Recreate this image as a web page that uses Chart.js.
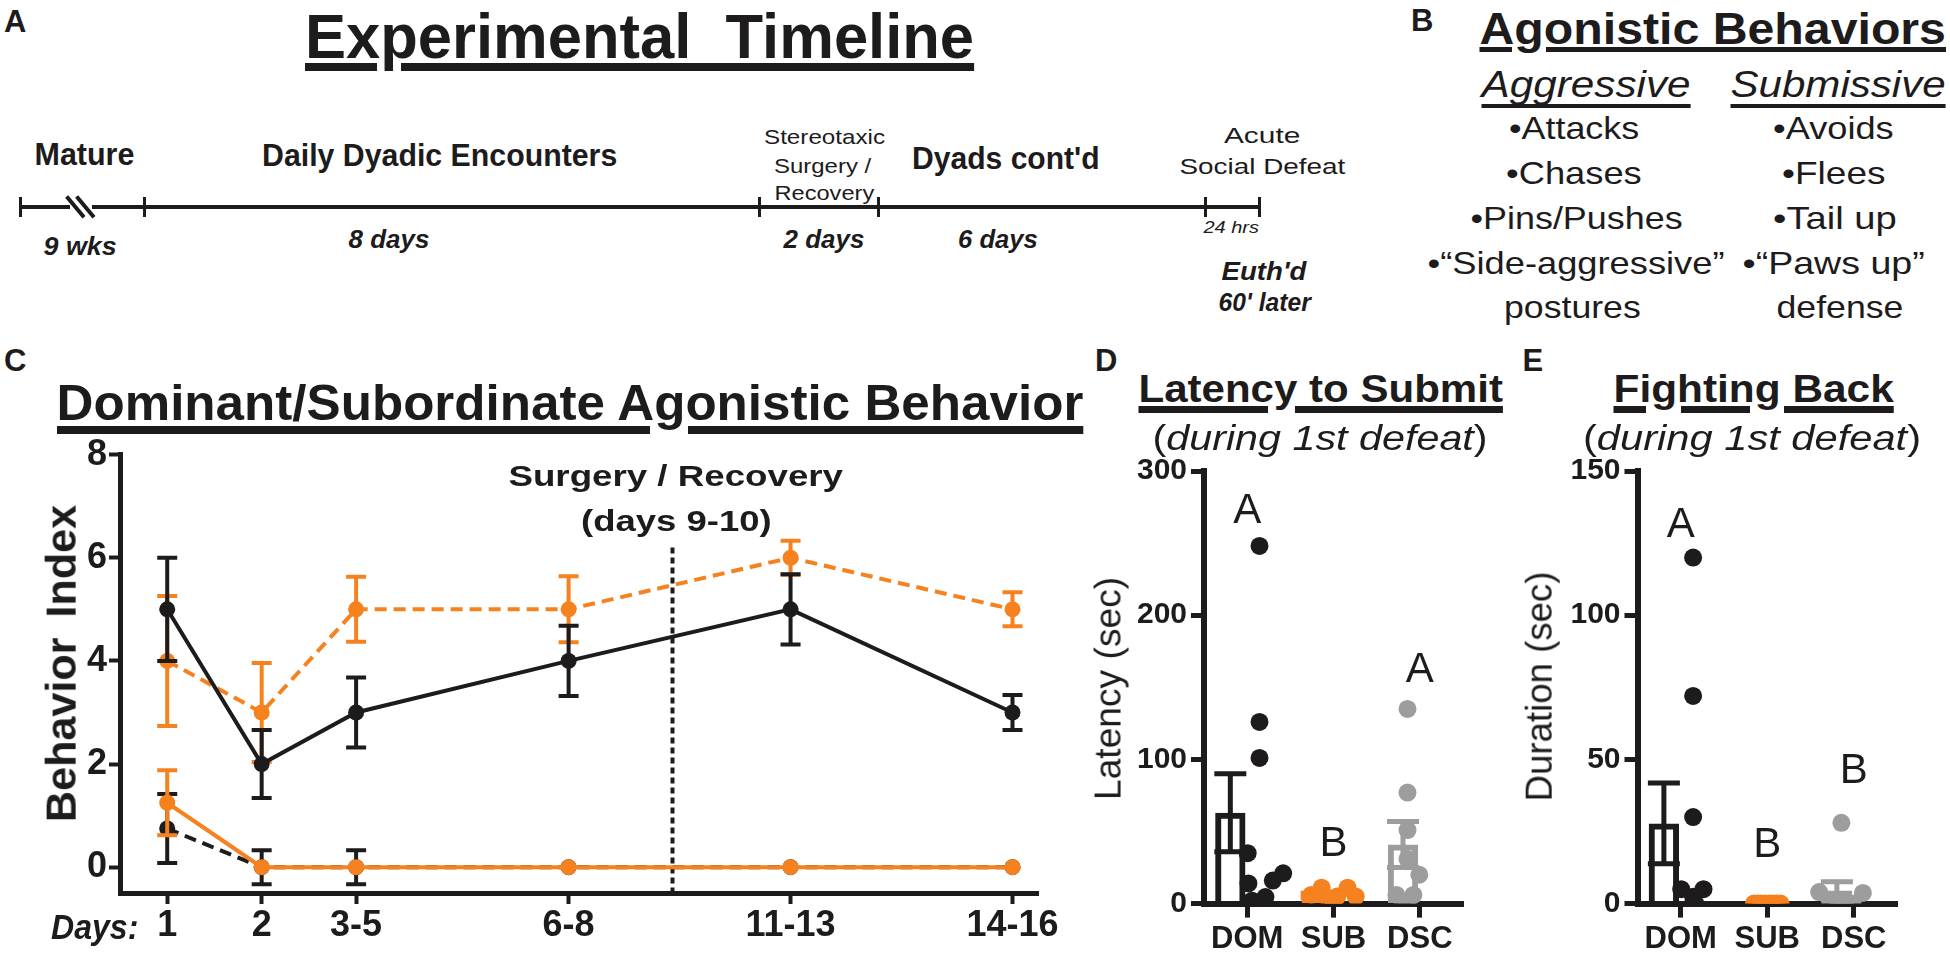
<!DOCTYPE html>
<html>
<head>
<meta charset="utf-8">
<title>Dominant / subordinate agonistic behavior</title>
<script src="https://cdn.jsdelivr.net/npm/chart.js@4.4.1/dist/chart.umd.min.js"></script>
<style>
  html, body { margin: 0; padding: 0; background: #fff; }
  #fig { position: relative; width: 1950px; height: 955px; overflow: hidden;
         font-family: "Liberation Sans", Arial, sans-serif; color: #1d1b1c; }
  #fig canvas { position: absolute; }
  .txt { position: absolute; white-space: pre; line-height: 1; transform-origin: 50% 50%; }
  .rule { position: absolute; background: #1d1b1c; }
</style>
</head>
<body>
<div id="fig">
  <canvas id="chart-behavior" width="1060" height="530" style="left:0;top:420px"></canvas>
  <canvas id="chart-latency" width="400" height="525" style="left:1100px;top:430px"></canvas>
  <canvas id="chart-duration" width="400" height="525" style="left:1530px;top:430px"></canvas>
</div>
<script>
// ── Data ─────────────────────────────────────────────────────────────────────

// Panel C: behavior index per day block (mean and SEM).
var dayLabels = ['1', '2', '3-5', '6-8', '11-13', '14-16'];
var dayPos    = [1, 2, 3, 5.25, 7.6, 9.95];
var surgeryPos = 6.35;
var behaviorTicks = [0, 2, 4, 6, 8];

var domAggressive     = [5, 2, 3, 4, 5, 3];
var domAggressiveSem  = [1, 0.66, 0.68, 0.68, 0.68, 0.34];
var subSubmissive     = [4, 3, 5, 5, 6, 5];
var subSubmissiveSem  = [1.26, 0.96, 0.63, 0.64, 0.33, 0.33];
var domSubmissive     = [0.75, 0, 0, 0, 0, 0];
var domSubmissiveSem  = [0.67, 0.33, 0.33, 0, 0, 0];
var subAggressive     = [1.25, 0, 0, 0, 0, 0];
var subAggressiveSem  = [0.63, 0, 0, 0, 0, 0];

// Panels D and E: groups, bar means, SEM, individual animals.
var groups = ['DOM', 'SUB', 'DSC'];

var latencyTicks = [0, 100, 200, 300];
var latencyMean  = [63, 5.6, 41];
var latencySem   = [27, 1.5, 16];
var latencyDom   = [248, 126, 101, 35, 21, 16, 14, 4.5, 2];
var latencyDomJitter = [0, 0, 0, -0.16, 0.32, 0.18, -0.15, 0.08, -0.1];
var latencySub   = [11, 11, 6, 5, 5, 2, 0, 4];
var latencySubJitter = [-0.16, 0.19, -0.3, 0.3, 0.05, 0, 0, -0.08];
var latencyDsc   = [135, 77, 51, 31, 20, 6, 6, 0];
var latencyDscJitter = [0, 0, 0, 0, 0.16, -0.15, 0.08, 0];
var latencyLetters = ['A', 'B', 'A'];
var latencyLetterY = [272, 41, 162];

var durationTicks = [0, 50, 100, 150];
var durationMean  = [27.8, 0, 4.5];
var durationSem   = [14, 0, 3.1];
var durationDom   = [120, 72, 30, 5, 5, 2.4, 0, 0];
var durationDomJitter = [0, 0, 0, -0.16, 0.14, 0, 0, 0.03];
var durationSub   = [0, 0, 0, 0, 0, 0, 0, 0];
var durationSubJitter = [-0.18, -0.13, -0.08, -0.03, 0.03, 0.08, 0.13, 0.18];
var durationDsc   = [28, 4, 3.7, 0, 0, 0, 0, 0];
var durationDscJitter = [0, -0.3, 0.29, -0.15, 0.15, 0, -0.05, 0.05];
var durationLetters = ['A', 'B', 'B'];
var durationLetterY = [131, 20, 46];

// ── Styles ───────────────────────────────────────────────────────────────────

var BLACK  = '#1d1b1c';
var ORANGE = '#f5821f';
var GRAY   = '#9d9d9d';
var FONT   = '"Liberation Sans", Arial, sans-serif';

Chart.defaults.font.family = FONT;
Chart.defaults.color = BLACK;

// ── Plugins ──────────────────────────────────────────────────────────────────

// Draws mean ± SEM whiskers right after each dataset that carries `errors`.
var errorBarPlugin = {
    id: 'errorBars',
    afterDatasetDraw: function(chart, args) {
        var ds = chart.data.datasets[args.index];
        if (!ds.errors) {
            return;
        }
        var yScale = chart.scales[args.meta.yAxisID];
        var ctx = chart.ctx;
        ctx.save();
        ctx.setLineDash([]);
        ctx.lineWidth = ds.errorWidth;
        args.meta.data.forEach(function(el, i) {
            var e = ds.errors[i];
            if (!e) {
                return;
            }
            var raw = ds.data[i];
            var v = typeof raw === 'object' ? raw.y : raw;
            var top = yScale.getPixelForValue(v + e);
            var bot = yScale.getPixelForValue(v - e);
            var c = ds.errorCap;
            ctx.strokeStyle = Array.isArray(ds.errorColor) ? ds.errorColor[i] : ds.errorColor;
            ctx.beginPath();
            ctx.moveTo(el.x, top); ctx.lineTo(el.x, bot);
            ctx.moveTo(el.x - c, top); ctx.lineTo(el.x + c, top);
            ctx.moveTo(el.x - c, bot); ctx.lineTo(el.x + c, bot);
            ctx.stroke();
        });
        ctx.restore();
    }
};

// Vertical dotted marker for the surgery / recovery break.
var surgeryLinePlugin = {
    id: 'surgeryLine',
    beforeDatasetsDraw: function(chart, args, opts) {
        var ctx = chart.ctx;
        var x = chart.scales.x.getPixelForValue(opts.at);
        ctx.save();
        ctx.strokeStyle = BLACK;
        ctx.lineWidth = 4;
        ctx.setLineDash([6, 4]);
        ctx.beginPath();
        ctx.moveTo(x, chart.scales.y.getPixelForValue(opts.from));
        ctx.lineTo(x, chart.chartArea.bottom);
        ctx.stroke();
        ctx.restore();
    }
};

// Significance letters above each group.
var letterPlugin = {
    id: 'groupLetters',
    afterDatasetsDraw: function(chart, args, opts) {
        var ctx = chart.ctx;
        ctx.save();
        ctx.fillStyle = BLACK;
        ctx.font = '42px ' + FONT;
        ctx.textAlign = 'center';
        ctx.textBaseline = 'middle';
        opts.letters.forEach(function(s, i) {
            ctx.fillText(s, chart.scales.x.getPixelForValue(i), chart.scales.y.getPixelForValue(opts.y[i]));
        });
        ctx.restore();
    }
};

function fixedTicks(values) {
    return function(scale) {
        scale.ticks = values.map(function(v) { return { value: v }; });
    };
}

// ── Panel C: line chart ──────────────────────────────────────────────────────

function lineSeries(values, sems, color, dash, order) {
    return {
        data: values.map(function(v, i) { return { x: dayPos[i], y: v }; }),
        errors: sems, errorColor: color, errorWidth: 4, errorCap: 10,
        borderColor: color, backgroundColor: color, borderWidth: 4, borderDash: dash,
        pointRadius: 8, pointHoverRadius: 8, pointBorderWidth: 0, pointBackgroundColor: color,
        tension: 0, fill: false, order: order
    };
}

new Chart(document.getElementById('chart-behavior'), {
    type: 'line',
    data: {
        datasets: [
            lineSeries(subSubmissive, subSubmissiveSem, ORANGE, [12, 7], 4),
            lineSeries(domAggressive, domAggressiveSem, BLACK, [], 3),
            lineSeries(domSubmissive, domSubmissiveSem, BLACK, [12, 7], 2),
            lineSeries(subAggressive, subAggressiveSem, ORANGE, [], 1)
        ]
    },
    plugins: [errorBarPlugin, surgeryLinePlugin],
    options: {
        responsive: false, animation: false, devicePixelRatio: 1,
        layout: { padding: { top: 34.6, right: 22, left: 0, bottom: 0 } },
        plugins: {
            legend: { display: false }, tooltip: { enabled: false },
            surgeryLine: { at: surgeryPos, from: 6.2 }
        },
        scales: {
            x: {
                type: 'linear', min: 0.5, max: 10.22,
                afterBuildTicks: fixedTicks(dayPos),
                afterFit: function(s) { s.height = 57; s.paddingLeft = 0; s.paddingRight = 0; },
                ticks: {
                    callback: function(v, i) { return dayLabels[i]; },
                    autoSkip: false, maxRotation: 0, padding: 0,
                    font: { size: 36, weight: 'bold' }, color: BLACK
                },
                grid: { drawOnChartArea: false, drawTicks: true, tickLength: 11, tickWidth: 4, tickColor: BLACK },
                border: { display: true, width: 5, color: BLACK }
            },
            y: {
                min: -0.5, max: 8,
                afterBuildTicks: fixedTicks(behaviorTicks),
                afterFit: function(s) { s.width = 120; s.paddingTop = 0; s.paddingBottom = 0; },
                ticks: { padding: 2, font: { size: 36, weight: 'bold' }, color: BLACK },
                grid: { drawOnChartArea: false, drawTicks: true, tickLength: 11, tickWidth: 4, tickColor: BLACK },
                border: { display: true, width: 5, color: BLACK }
            }
        }
    }
});

// ── Panels D and E: bar + scatter ────────────────────────────────────────────

function points(values, jitter, g) {
    return values.map(function(v, i) { return { x: g + jitter[i], y: v }; });
}

function dotSeries(data, color, order) {
    return {
        type: 'scatter', xAxisID: 'xs', data: data,
        pointRadius: 9, pointHoverRadius: 9, pointBorderWidth: 0,
        backgroundColor: color, borderColor: color, order: order
    };
}

function groupChart(id, means, sems, dots, letters, letterY, yMax, yTicks, yWidth, padRight) {
    new Chart(document.getElementById(id), {
        type: 'bar',
        data: {
            labels: groups,
            datasets: [
                {
                    data: means, xAxisID: 'x',
                    backgroundColor: ['rgba(0,0,0,0)', ORANGE, 'rgba(0,0,0,0)'],
                    borderColor: [BLACK, ORANGE, GRAY], borderWidth: 6, borderSkipped: 'start',
                    categoryPercentage: 0.78, barPercentage: 0.9,
                    errors: sems, errorColor: [BLACK, ORANGE, GRAY], errorWidth: 5, errorCap: 16,
                    order: 4
                },
                dotSeries(dots[0], BLACK, 3),
                dotSeries(dots[1], ORANGE, 2),
                dotSeries(dots[2], GRAY, 1)
            ]
        },
        plugins: [errorBarPlugin, letterPlugin],
        options: {
            responsive: false, animation: false, devicePixelRatio: 1,
            layout: { padding: { top: 41, right: padRight, left: 0, bottom: 0 } },
            plugins: {
                legend: { display: false }, tooltip: { enabled: false },
                groupLetters: { letters: letters, y: letterY }
            },
            scales: {
                x: {
                    type: 'category', offset: true,
                    afterFit: function(s) { s.height = 51.4; s.paddingLeft = 0; s.paddingRight = 0; },
                    ticks: { padding: 3, maxRotation: 0, autoSkip: false,
                             font: { size: 31, weight: 'bold' }, color: BLACK },
                    grid: { offset: false, drawOnChartArea: false, drawTicks: true,
                            tickLength: 14, tickWidth: 5, tickColor: BLACK },
                    border: { display: true, width: 6, color: BLACK }
                },
                xs: { type: 'linear', display: false, min: -0.5, max: 2.5 },
                y: {
                    min: 0, max: yMax,
                    afterBuildTicks: fixedTicks(yTicks),
                    afterFit: function(s) { s.width = yWidth; s.paddingTop = 0; s.paddingBottom = 0; },
                    ticks: { padding: 4, font: { size: 30, weight: 'bold' }, color: BLACK },
                    grid: { drawOnChartArea: false, drawTicks: true, tickLength: 13, tickWidth: 5, tickColor: BLACK },
                    border: { display: true, width: 6, color: BLACK }
                }
            }
        }
    });
}

groupChart('chart-latency', latencyMean, latencySem, [
    points(latencyDom, latencyDomJitter, 0),
    points(latencySub, latencySubJitter, 1),
    points(latencyDsc, latencyDscJitter, 2)
], latencyLetters, latencyLetterY, 300, latencyTicks, 104, 37);

groupChart('chart-duration', durationMean, durationSem, [
    points(durationDom, durationDomJitter, 0),
    points(durationSub, durationSubJitter, 1),
    points(durationDsc, durationDscJitter, 2)
], durationLetters, durationLetterY, 150, durationTicks, 107.5, 33);

// ── Text and timeline (HTML) ─────────────────────────────────────────────────

var fig = document.getElementById('fig');

// [html, centre x, cap-centre y, font size, options]
var texts = [
    ['A', 15, 21, 31, { b: 1 }],
    ['Experimental  Timeline', 639.5, 36, 63, { b: 1, w: 669, u: [8, 5] }],
    ['Mature', 84, 153.5, 32, { b: 1, w: 100 }],
    ['Daily Dyadic Encounters', 439, 155, 32, { b: 1, w: 355 }],
    ['Stereotaxic', 824, 136, 21, { w: 121 }],
    ['Surgery /', 822, 165, 21, { w: 97 }],
    ['Recovery', 824, 192.5, 21, { w: 100 }],
    ["Dyads cont'd", 1006, 157.5, 32, { b: 1, w: 188 }],
    ['Acute', 1262, 136, 22, { w: 76 }],
    ['Social Defeat', 1262, 166.5, 22, { w: 166 }],
    ['9 wks', 80, 246, 25, { b: 1, i: 1, w: 73 }],
    ['8 days', 388.5, 239, 25, { b: 1, i: 1, w: 81 }],
    ['2 days', 823.5, 239, 25, { b: 1, i: 1, w: 81 }],
    ['6 days', 998, 239, 25, { b: 1, i: 1, w: 80 }],
    ['24 hrs', 1230.5, 227.5, 16, { i: 1, w: 55 }],
    ["Euth'd", 1263.5, 271, 26, { b: 1, i: 1, w: 85 }],
    ["60' later", 1264, 302, 26, { b: 1, i: 1, w: 92 }],

    ['B', 1422, 20, 31, { b: 1 }],
    ['Agonistic Behaviors', 1712, 29, 44, { b: 1, w: 466, u: [5, 3] }],
    ['Aggressive', 1586, 85, 36, { i: 1, w: 209, u: [3.5, 7] }],
    ['Submissive', 1838, 85, 36, { i: 1, w: 215, u: [3.5, 7] }],
    ['•Attacks', 1574, 128, 32, { w: 130 }],
    ['•Chases', 1574, 172.5, 32, { w: 136 }],
    ['•Pins/Pushes', 1576, 218, 32, { w: 212 }],
    ['•“Side-aggressive”', 1576, 262.5, 32, { w: 297 }],
    ['postures', 1572, 307, 32, { w: 137 }],
    ['•Avoids', 1833, 128, 32, { w: 121 }],
    ['•Flees', 1833, 172.5, 32, { w: 103 }],
    ['•Tail up', 1835, 218, 32, { w: 124 }],
    ['•“Paws up”', 1833, 262.5, 32, { w: 182 }],
    ['defense', 1840, 307, 32, { w: 127 }],

    ['C', 15, 360, 31, { b: 1 }],
    ['Dominant/Subordinate Agonistic Behavior', 569.5, 403, 50, { b: 1, w: 1027, u: [8, 6] }],
    ['Surgery / Recovery', 675, 475.5, 30, { b: 1, w: 334 }],
    ['(days 9-10)', 676, 520.5, 30, { b: 1, w: 191 }],
    ['Behavior Index', 61, 663.5, 43, { b: 1, w: 317, r: 1, ws: 8 }],
    ['Days:', 94, 926, 35, { b: 1, i: 1, w: 87 }],

    ['D', 1106, 360.5, 31, { b: 1 }],
    ['Latency to Submit', 1320, 388.5, 38, { b: 1, w: 364, u: [7, 4] }],
    ['(<i>during 1st defeat</i>)', 1320, 437.5, 35, { w: 335 }],
    ['Latency (sec)', 1108, 688, 37, { w: 223, r: 1 }],
    ['E', 1533, 360.5, 31, { b: 1 }],
    ['Fighting Back', 1753.5, 388.5, 38, { b: 1, w: 280, u: [7, 4] }],
    ['(<i>during 1st defeat</i>)', 1752, 437.5, 35, { w: 338 }],
    ['Duration (sec)', 1538.5, 686, 37, { w: 229.5, r: 1 }]
];

function placeText(t) {
    var o = t[4];
    var el = document.createElement('div');
    el.className = 'txt';
    el.innerHTML = t[0];
    el.style.fontSize = t[3] + 'px';
    el.style.fontWeight = o.b ? 'bold' : 'normal';
    if (o.i) { el.style.fontStyle = 'italic'; }
    if (o.ws) { el.style.wordSpacing = o.ws + 'px'; }
    if (o.u) {
        el.style.textDecoration = 'underline';
        el.style.textDecorationThickness = o.u[0] + 'px';
        el.style.textUnderlineOffset = o.u[1] + 'px';
        el.style.textDecorationSkipInk = 'auto';
    }
    fig.appendChild(el);
    var w = el.offsetWidth, h = el.offsetHeight;
    var k = o.w ? o.w / w : 1;
    el.style.left = (t[1] - w / 2) + 'px';
    el.style.top = (t[2] - h / 2) + 'px';
    el.style.transform = (o.r ? 'rotate(-90deg) ' : '') + 'scaleX(' + k + ')';
}

function rule(x, y, w, h, angle) {
    var el = document.createElement('div');
    el.className = 'rule';
    el.style.left = (x - w / 2) + 'px';
    el.style.top = (y - h / 2) + 'px';
    el.style.width = w + 'px';
    el.style.height = h + 'px';
    if (angle) { el.style.transform = 'rotate(' + angle + 'deg)'; }
    fig.appendChild(el);
}

function drawTimeline() {
    var y = 207;
    rule(45, y, 50, 4);                 // before the break
    rule(675.5, y, 1167, 4);            // 92 → 1259
    rule(75.5, y, 27, 3.5, 50);         // break marks
    rule(85.5, y, 27, 3.5, 50);
    [20, 144, 759, 878.5, 1205, 1259].forEach(function(x) {
        rule(x, y, 3, 20);
    });
}

document.fonts.ready.then(function() {
    drawTimeline();
    texts.forEach(placeText);
});
</script>
</body>
</html>
